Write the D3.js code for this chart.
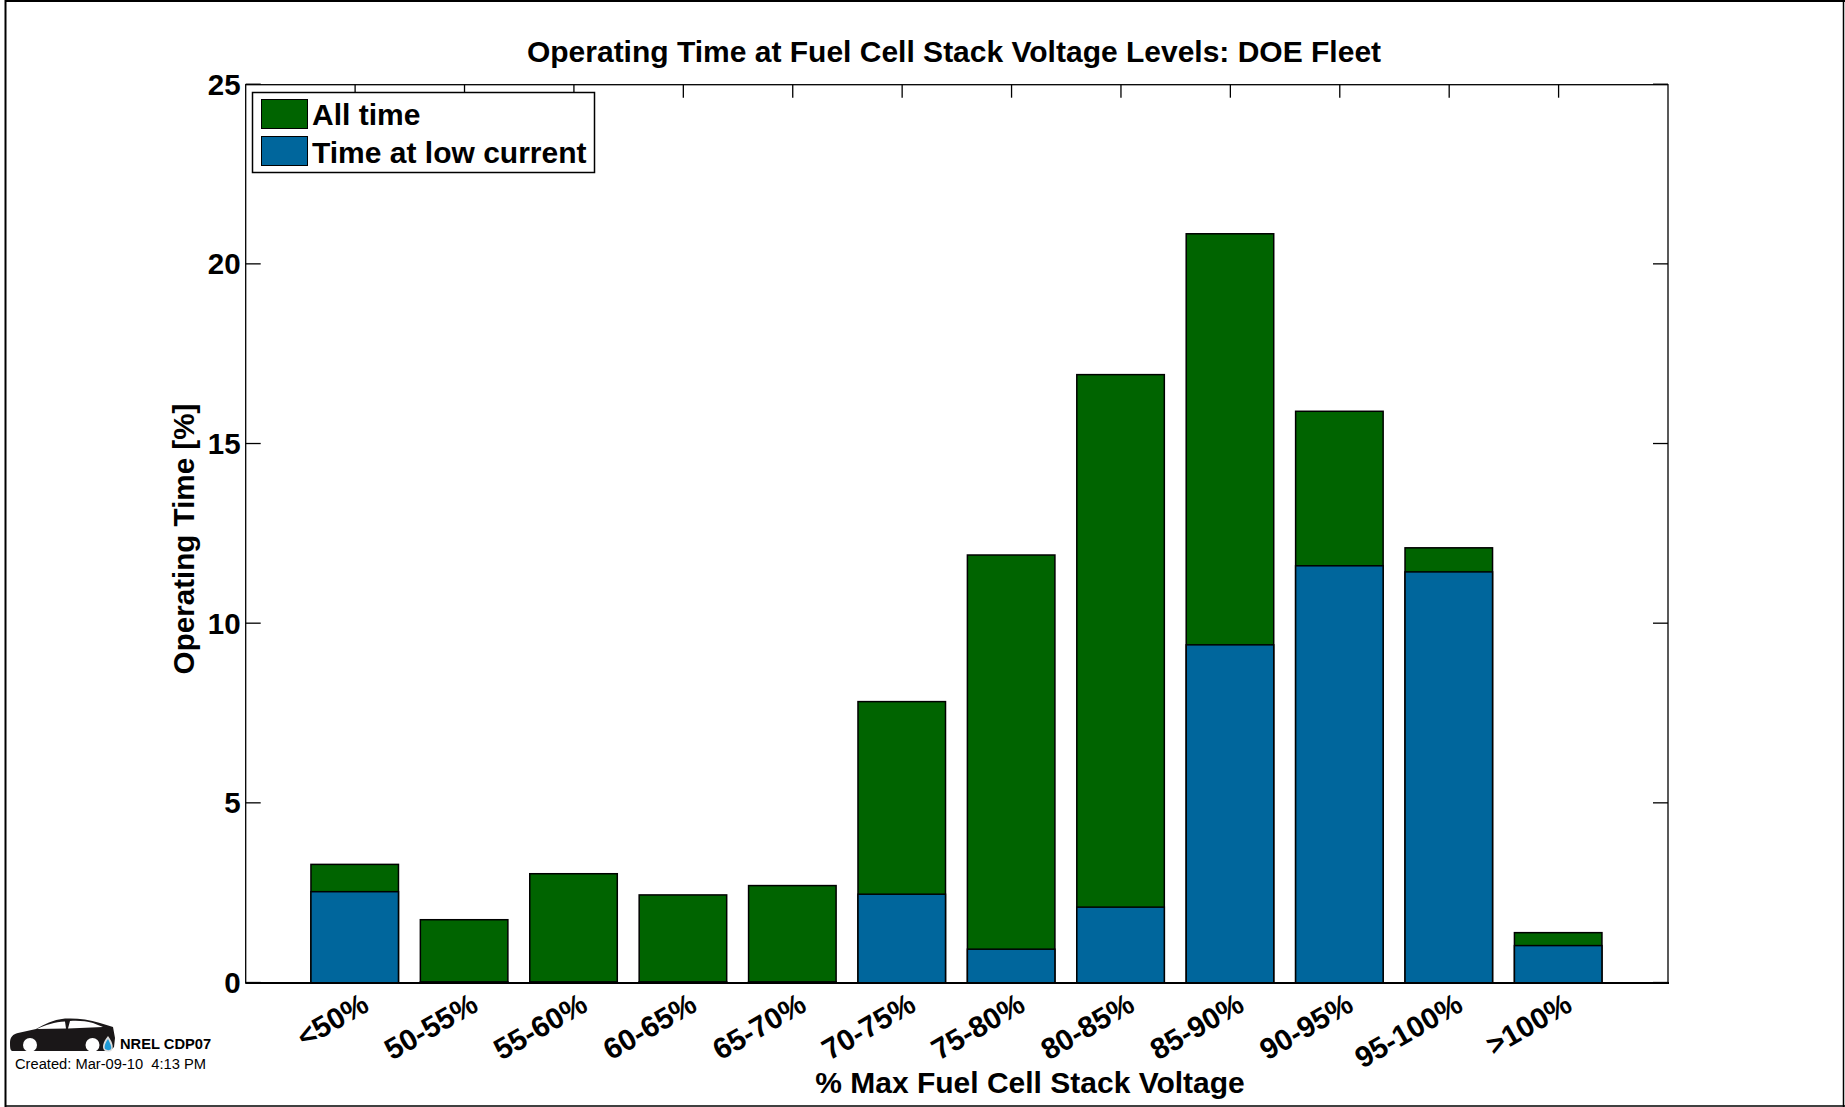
<!DOCTYPE html>
<html><head><meta charset="utf-8">
<script src="https://cdn.jsdelivr.net/npm/d3@7/dist/d3.min.js"></script>
<style>html,body{margin:0;padding:0;background:#fff}svg{display:block}text{font-family:"Liberation Sans",Arial,sans-serif;fill:#000}</style>
</head><body><svg id="c" width="1845" height="1107"></svg>
<script>
const categories=["<50%","50-55%","55-60%","60-65%","65-70%","70-75%","75-80%","80-85%","85-90%","90-95%","95-100%",">100%"];
const allTime=[3.29,1.75,3.03,2.44,2.70,7.82,11.90,16.92,20.84,15.90,12.10,1.39];
const lowCurrent=[2.53,0.02,0.02,0.02,0.02,2.46,0.93,2.10,9.40,11.60,11.43,1.03];
const yTicks=[0,5,10,15,20,25];
const legendLabels=["All time","Time at low current"];
const GREEN="#006400",BLUE="#00669c";
const svg=d3.select("#c");
const W=1845,H=1107,L=245.7,R=1668,T=84.7,B=983;
// outer frame
svg.append("rect").attr("width",W).attr("height",H).attr("fill","#fff");
const frame=svg.append("g").attr("stroke","#000");
frame.append("line").attr("x1",5).attr("x2",W).attr("y1",1).attr("y2",1).attr("stroke-width",2);
frame.append("line").attr("x1",5.5).attr("x2",5.5).attr("y1",0).attr("y2",H).attr("stroke-width",2);
frame.append("line").attr("x1",W-1.5).attr("x2",W-1.5).attr("y1",0).attr("y2",H).attr("stroke-width",1.5);
frame.append("line").attr("x1",5).attr("x2",W).attr("y1",H-1).attr("y2",H-1).attr("stroke-width",1.5);
const x=d3.scaleLinear().domain([0,13]).range([L,R]);
const y=d3.scaleLinear().domain([0,25]).range([B,T]);
const bw=x(.8)-x(0);
const bars=svg.append("g").attr("stroke","#000").attr("stroke-width",1.5);
bars.selectAll("rect.a").data(allTime).join("rect").attr("class","a").attr("x",(d,i)=>x(i+1)-bw/2-.4).attr("width",bw).attr("y",d=>y(d)-.4).attr("height",d=>y(0)-y(d)+.4).attr("fill",GREEN);
bars.selectAll("rect.b").data(lowCurrent).join("rect").attr("class","b").attr("x",(d,i)=>x(i+1)-bw/2-.4).attr("width",bw).attr("y",d=>y(d)-.4).attr("height",d=>y(0)-y(d)+.4).attr("fill",BLUE);
const ax=svg.append("g").attr("stroke","#000").attr("fill","none");
ax.append("rect").attr("x",L).attr("y",T).attr("width",R-L).attr("height",B-T).attr("stroke-width",1.3);
ax.append("line").attr("x1",L).attr("x2",R+1).attr("y1",B).attr("y2",B).attr("stroke-width",2);
yTicks.forEach(v=>{ax.append("line").attr("x1",L).attr("x2",L+15).attr("y1",y(v)-.5).attr("y2",y(v)-.5).attr("stroke-width",1.3);
ax.append("line").attr("x1",R-15).attr("x2",R).attr("y1",y(v)-.5).attr("y2",y(v)-.5).attr("stroke-width",1.3);});
categories.forEach((c,i)=>{ax.append("line").attr("x1",x(i+1)).attr("x2",x(i+1)).attr("y1",T).attr("y2",T+13).attr("stroke-width",1.3);});
svg.selectAll("text.yt").data(yTicks).join("text").attr("class","yt").attr("x",L-5).attr("y",d=>y(d)+10).attr("text-anchor","end").attr("font-size",29.5).attr("font-weight","bold").text(d=>d);
svg.selectAll("text.xt").data(categories).join("text").attr("class","xt").attr("text-anchor","end").attr("font-size",29.5).attr("font-weight","bold")
 .attr("transform",(d,i)=>`translate(${x(i+1)+15.5},${B+27}) rotate(-30)`).text(d=>d);
svg.append("text").attr("x",954).attr("y",62).attr("text-anchor","middle").attr("font-size",30).attr("font-weight","bold").text("Operating Time at Fuel Cell Stack Voltage Levels: DOE Fleet");
svg.append("text").attr("x",1030).attr("y",1093).attr("text-anchor","middle").attr("font-size",30).attr("font-weight","bold").text("% Max Fuel Cell Stack Voltage");
svg.append("text").attr("transform","translate(194,539) rotate(-90)").attr("text-anchor","middle").attr("font-size",29.6).attr("font-weight","bold").text("Operating Time [%]");
// legend
const lg=svg.append("g");
lg.append("rect").attr("x",252.5).attr("y",92.5).attr("width",342).attr("height",80).attr("fill","#fff").attr("stroke","#000").attr("stroke-width",1.5);
legendLabels.forEach((t,i)=>{
 lg.append("rect").attr("x",261.5).attr("y",99.5+i*37).attr("width",46).attr("height",29).attr("fill",i?BLUE:GREEN).attr("stroke","#000").attr("stroke-width",1);
 lg.append("text").attr("x",312).attr("y",125+i*38).attr("font-size",30).attr("font-weight","bold").text(t);
});
// car logo
const car=svg.append("g");
car.append("path").attr("fill","#1a1718").attr("d","M10 1043 C10 1037 13 1034 18 1033 L36 1029 C45 1024 52 1020 65 1018.5 C76 1018 88 1019 100 1023 L113 1027 L115 1038 L114 1047 L110 1051 L12 1051 C10 1050 10 1047 10 1043 Z");
car.append("path").attr("fill","#fff").attr("d","M37 1029 C45 1025 55 1022 65 1021.5 L66 1028.5 Z M70 1021 C78 1020.5 86 1021 93 1023 L103 1027 L68 1028.5 Z");
[[30,1045],[92.5,1045]].forEach(p=>car.append("circle").attr("cx",p[0]).attr("cy",p[1]).attr("r",7).attr("fill","#fff"));
car.append("path").attr("fill","#ddd").attr("d","M108 1036 C103 1042 102 1047 104 1050 C106 1052 111 1052 112 1050 C114 1047 112 1041 108 1036 Z");
car.append("path").attr("fill","#1e9ad6").attr("d","M108 1039 C105 1043 104 1047 105 1049 C107 1050.5 110 1050.5 111 1049 C112 1047 110 1043 108 1039 Z");
svg.append("text").attr("x",120).attr("y",1049).attr("font-size",14.7).attr("font-weight","bold").text("NREL CDP07");
svg.append("text").attr("x",15).attr("y",1069).attr("font-size",14.7).attr("xml:space","preserve").text("Created: Mar-09-10  4:13 PM");
</script></body></html>
